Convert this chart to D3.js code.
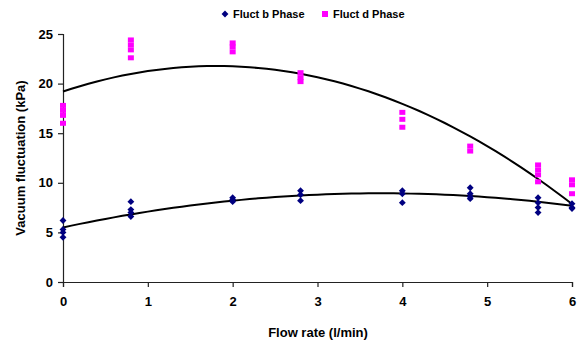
<!DOCTYPE html>
<html>
<head>
<meta charset="utf-8">
<script src="https://cdn.jsdelivr.net/npm/d3@7"></script>
<style>
  html, body { margin: 0; padding: 0; background: #fff; }
  svg { display: block; font-family: "Liberation Sans", Arial, sans-serif; }
</style>
</head>
<body>
<svg id="chart" width="578" height="345"></svg>
<script>
// Flow rates tested (l/min)
const flowRates = [0, 0.8, 2, 2.8, 4, 4.8, 5.6, 6];

// Vacuum fluctuation readings (kPa), repeated measurements per flow rate
const fluctB = [
  [6.2, 5.3, 5.0, 4.5],
  [8.1, 7.3, 7.0, 6.6],
  [8.5, 8.3, 8.1],
  [9.2, 8.8, 8.2],
  [9.2, 8.9, 8.0],
  [9.5, 8.9, 8.6, 8.4],
  [8.5, 8.0, 7.5, 7.0],
  [7.9, 7.5, 7.4]
];
const fluctD = [
  [17.8, 17.3, 16.8, 16.0],
  [24.4, 23.9, 23.4, 22.6],
  [24.1, 23.7, 23.2],
  [21.1, 20.6, 20.2],
  [17.1, 16.4, 15.6],
  [13.7, 13.2],
  [11.8, 11.3, 10.8, 10.1],
  [10.3, 9.8, 8.9]
];

// Polynomial trendline coefficients (c0 + c1*x + c2*x^2)
const trendB = [5.5, 1.84, -0.246];
const trendD = [19.2, 2.85, -0.79];

const seriesNames = ["Fluct b Phase", "Fluct d Phase"];
const xTicks = [0, 1, 2, 3, 4, 5, 6];
const yTicks = [0, 5, 10, 15, 20, 25];

const svg = d3.select("#chart");
const x = d3.scaleLinear().domain([0, 6]).range([63, 572]);
const y = d3.scaleLinear().domain([0, 25]).range([282, 34]);

// flatten grouped readings into points
function toPoints(groups) {
  const pts = [];
  groups.forEach((g, i) => g.forEach(v => pts.push([flowRates[i], v])));
  return pts;
}
const ptsB = toPoints(fluctB);
const ptsD = toPoints(fluctD);

const poly = c => xv => c[0] + c[1] * xv + c[2] * xv * xv;

// axes
const yAxis = d3.axisLeft(y).tickValues(yTicks).tickFormat(d3.format("d")).tickSize(5).tickPadding(5);
const xAxis = d3.axisBottom(x).tickValues(xTicks).tickFormat(d3.format("d")).tickSize(5).tickPadding(10);

const gy = svg.append("g").attr("transform", `translate(${x(0)},0)`).call(yAxis);
const gx = svg.append("g").attr("transform", `translate(0,${y(0)})`).call(xAxis);
[gx, gy].forEach(g => {
  g.select(".domain").attr("stroke", "#222").attr("stroke-width", 1.2);
  g.selectAll(".tick line").attr("stroke", "#222").attr("stroke-width", 1.2);
  g.selectAll(".tick text")
    .attr("fill", "#000")
    .attr("font-size", 13)
    .attr("font-weight", "bold")
    .attr("font-family", "'Liberation Sans', Arial, sans-serif");
});

// trend lines
const xs = d3.range(0, 6.0001, 0.1);
const line = d3.line().x(d => x(d[0])).y(d => y(d[1]));
[trendD, trendB].forEach(c => {
  const f = poly(c);
  svg.append("path")
    .datum(xs.map(v => [v, f(v)]))
    .attr("d", line)
    .attr("fill", "none")
    .attr("stroke", "#000")
    .attr("stroke-width", 2);
});

// markers: magenta squares
svg.append("g").selectAll("rect").data(ptsD).join("rect")
  .attr("x", d => x(d[0]) - 3)
  .attr("y", d => y(d[1]) - 2.5)
  .attr("width", 6).attr("height", 5)
  .attr("fill", "#ff00ff");

// markers: navy diamonds
const diamond = d3.symbol().type(d3.symbolDiamond2).size(30);
svg.append("g").selectAll("path").data(ptsB).join("path")
  .attr("transform", d => `translate(${x(d[0])},${y(d[1])})`)
  .attr("d", diamond)
  .attr("fill", "#000080");

// axis titles
svg.append("text")
  .attr("x", 318).attr("y", 337)
  .attr("text-anchor", "middle")
  .attr("font-size", 13).attr("font-weight", "bold")
  .text("Flow rate (l/min)");
svg.append("text")
  .attr("transform", "translate(25,158) rotate(-90)")
  .attr("text-anchor", "middle")
  .attr("font-size", 13).attr("font-weight", "bold")
  .text("Vacuum fluctuation (kPa)");

// legend
const leg = svg.append("g").attr("font-size", 11).attr("font-weight", "bold");
leg.append("path").attr("transform", "translate(225,14)").attr("d", diamond).attr("fill", "#000080");
leg.append("text").attr("x", 233).attr("y", 18).text(seriesNames[0]);
leg.append("rect").attr("x", 322).attr("y", 11).attr("width", 6).attr("height", 6).attr("fill", "#ff00ff");
leg.append("text").attr("x", 333).attr("y", 18).text(seriesNames[1]);
</script>
</body>
</html>
